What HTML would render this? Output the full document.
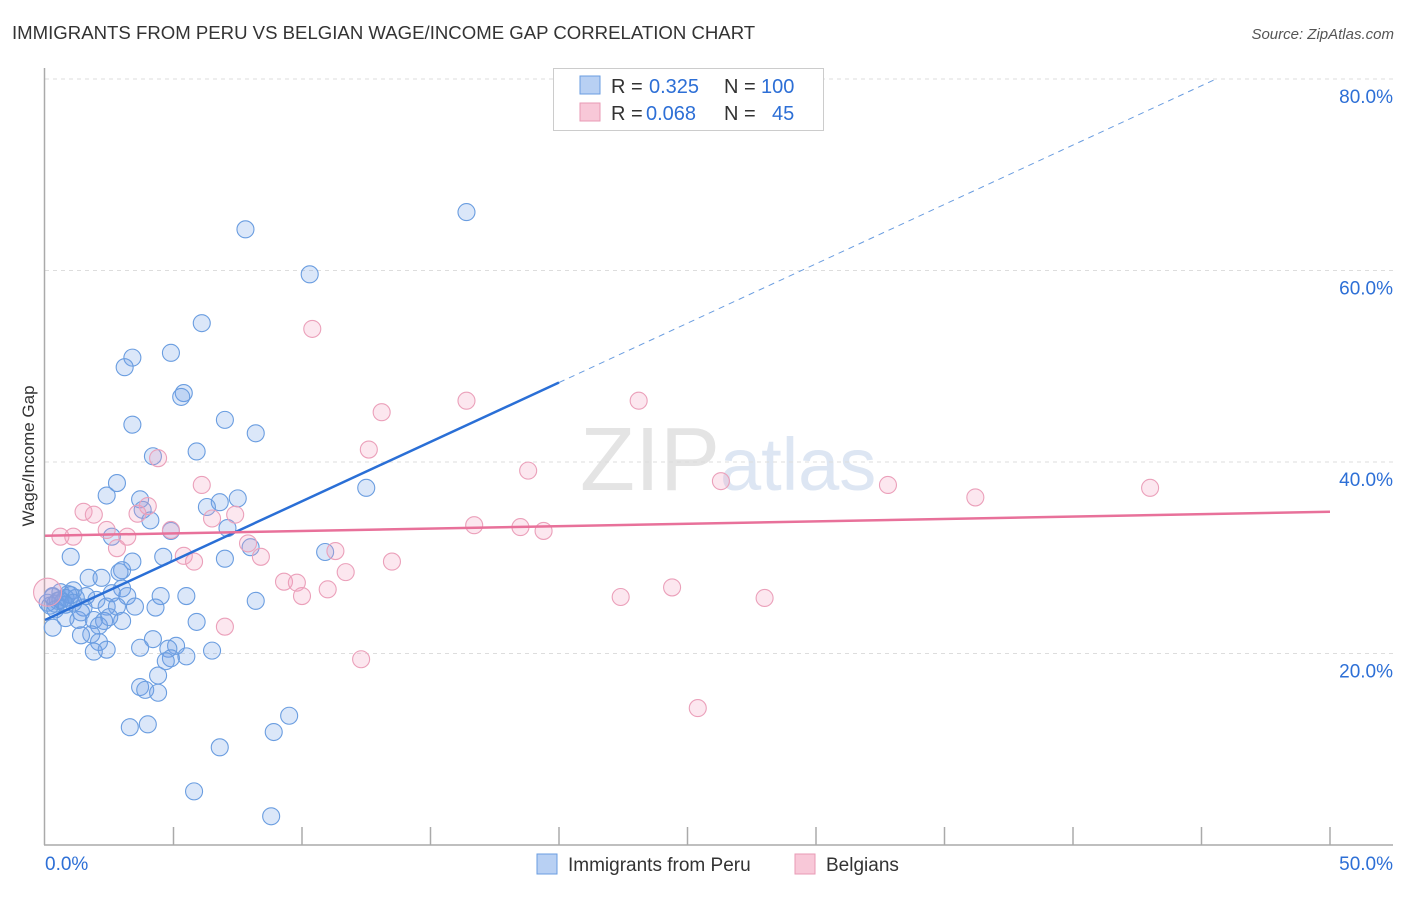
<!DOCTYPE html>
<html><head><meta charset="utf-8"><style>
body{margin:0;background:#fff;font-family:"Liberation Sans",sans-serif}
svg text{font-family:"Liberation Sans",sans-serif}
</style></head><body>
<svg id="c" width="1406" height="892" xmlns="http://www.w3.org/2000/svg">
<text x="12" y="39" font-size="18.6" fill="#333">IMMIGRANTS FROM PERU VS BELGIAN WAGE/INCOME GAP CORRELATION CHART</text>
<text x="1394" y="39" font-size="15" fill="#555" font-style="italic" text-anchor="end">Source: ZipAtlas.com</text>
<text x="720" y="490" font-size="90" fill="#e4e4e4" text-anchor="end" font-family="Liberation Serif">ZIP</text>
<text x="720" y="490" font-size="74" fill="#dde6f3">atlas</text>
<g id="grid"></g><g id="axes"></g><g id="pts"></g><g id="lines"></g>
<text transform="translate(34,456) rotate(-90)" font-size="17" fill="#333" text-anchor="middle">Wage/Income Gap</text>
<g>
<rect x="553.5" y="68.5" width="270" height="62" fill="#fff" stroke="#ccc"/>
<rect x="580" y="76" width="20" height="18" fill="#b8d0f3" stroke="#6a9de0"/>
<rect x="580" y="103" width="20" height="18" fill="#f8c8d8" stroke="#e89ab5"/>
<text x="611" y="93" font-size="20" fill="#333">R = <tspan fill="#2d6fd6" x="649">0.325</tspan><tspan x="724">N = </tspan><tspan fill="#2d6fd6" x="761">100</tspan></text>
<text x="611" y="120" font-size="20" fill="#333">R = <tspan fill="#2d6fd6" x="646">0.068</tspan><tspan x="724">N = </tspan><tspan fill="#2d6fd6" x="772">45</tspan></text>
</g>
<g>
<rect x="537" y="854" width="20" height="20" fill="#b8d0f3" stroke="#6a9de0"/>
<text x="568" y="871" font-size="19" fill="#333">Immigrants from Peru</text>
<rect x="795" y="854" width="20" height="20" fill="#f8c8d8" stroke="#e89ab5"/>
<text x="826" y="871" font-size="19" fill="#333">Belgians</text>
</g>
</svg>
<script>
const blueX=[16.4,7.8,10.3,6.1,3.4,4.9,3.1,5.4,5.3,7.0,3.4,8.2,5.9,4.2,12.5,2.8,2.4,3.7,7.5,6.8,6.3,3.8,4.1,7.1,4.9,2.6,8.0,10.9,1.0,4.6,7.0,3.4,3.0,2.9,1.7,2.2,3.0,1.1,0.6,2.6,3.2,5.5,4.5,0.3,0.8,1.6,2.0,8.2,0.1,0.4,1.5,2.4,3.5,4.3,2.8,0.8,1.3,1.9,2.3,3.0,5.9,0.3,2.1,1.8,1.4,4.2,2.1,3.7,5.1,4.8,1.9,2.4,6.5,5.5,4.9,4.7,4.4,3.7,3.9,4.4,9.5,4.0,3.3,8.9,6.8,5.8,8.8,0.5,0.9,1.2,0.2,0.7,1.0,2.5,1.4,0.6,0.3,1.1,0.4,0.8];
const blueY=[66.1,64.3,59.6,54.5,50.9,51.4,49.9,47.2,46.8,44.4,43.9,43.0,41.1,40.6,37.3,37.8,36.5,36.1,36.2,35.8,35.3,35.0,33.9,33.1,32.8,32.2,31.1,30.6,30.1,30.1,29.9,29.6,28.7,28.5,27.9,27.9,26.8,26.6,26.4,26.3,26.0,26.0,26.0,25.9,25.8,26.0,25.6,25.5,25.3,25.2,24.8,24.9,24.9,24.8,24.9,23.7,23.5,23.5,23.4,23.4,23.3,22.7,22.9,22.0,21.9,21.5,21.2,20.6,20.8,20.5,20.2,20.4,20.3,19.7,19.5,19.2,17.7,16.5,16.2,15.9,13.5,12.6,12.3,11.8,10.2,5.6,3.0,25.5,26.2,25.8,25.0,25.4,26.1,23.8,24.3,25.6,26.0,25.3,24.6,25.1];
const pinkX=[10.4,13.1,16.4,23.1,12.6,4.4,18.8,26.3,32.8,36.2,43.0,6.1,4.0,3.6,1.5,1.9,7.4,6.5,4.9,2.4,16.7,18.5,19.4,0.6,1.1,3.2,7.9,2.8,11.3,5.4,8.4,5.8,13.5,11.7,9.3,9.8,11.0,24.4,10.0,22.4,28.0,0.1,7.0,12.3,25.4];
const pinkY=[53.9,45.2,46.4,46.4,41.3,40.4,39.1,38.0,37.6,36.3,37.3,37.6,35.4,34.6,34.8,34.5,34.5,34.1,32.9,32.9,33.4,33.2,32.8,32.2,32.2,32.2,31.5,31.0,30.7,30.2,30.1,29.6,29.6,28.5,27.5,27.4,26.7,26.9,26.0,25.9,25.8,26.4,22.8,19.4,14.3];
const blueTrend=[23.5,1.24];const blueSolidEnd=20;
const pinkTrend=[32.3,0.05];
const yTicks=[20,40,60,80];const yTickLabels=["20.0%","40.0%","60.0%","80.0%"];
const xTicks=[0,5,10,15,20,25,30,35,40,45,50];
const X=v=>45+v*25.7, Y=v=>845-v*9.575;
const NS="http://www.w3.org/2000/svg";
function mk(p,t,a){const e=document.createElementNS(NS,t);for(const k in a)e.setAttribute(k,a[k]);p.appendChild(e);return e;}
const g=document.getElementById('grid'),ax=document.getElementById('axes'),pts=document.getElementById('pts'),ln=document.getElementById('lines');
yTicks.forEach((v,i)=>{const l=mk(g,'line',{x1:45,x2:1393,y1:Y(v),y2:Y(v),stroke:'#ddd','stroke-dasharray':'4,4'});


const t=mk(g,'text',{x:1393,y:Y(v)+24,'font-size':19,fill:'#2d6fd6','text-anchor':'end'});t.textContent=yTickLabels[i];

});
const a1=mk(ax,'line',{x1:44.5,x2:44.5,y1:68,y2:845,stroke:'#aaa','stroke-width':1.5});


const a2=mk(ax,'line',{x1:44,x2:1393,y1:845,y2:845,stroke:'#aaa','stroke-width':1.5});


xTicks.forEach(v=>{if(v===0)return;const l=mk(ax,'line',{x1:X(v),x2:X(v),y1:827,y2:845,stroke:'#aaa','stroke-width':1.5});

});
const xl=mk(ax,'text',{x:45,y:870,'font-size':19,fill:'#2d6fd6'});xl.textContent='0.0%';


const xr=mk(ax,'text',{x:1393,y:870,'font-size':19,fill:'#2d6fd6','text-anchor':'end'});xr.textContent='50.0%';


blueX.forEach((x,i)=>{const c=mk(pts,'circle',{cx:X(x),cy:Y(blueY[i]),r:8.5,fill:'rgba(110,160,230,0.25)',stroke:'#6a9de0','stroke-width':1.1});

});
pinkX.forEach((x,i)=>{const c=mk(pts,'circle',{cx:X(x),cy:Y(pinkY[i]),r:i===41?14:8.5,fill:'rgba(245,160,190,0.25)',stroke:'#eba0ba','stroke-width':1.1});

});
const bf=v=>blueTrend[0]+blueTrend[1]*v;
const l1=mk(ln,'line',{x1:X(0),y1:Y(bf(0)),x2:X(blueSolidEnd),y2:Y(bf(blueSolidEnd)),stroke:'#2a6fd6','stroke-width':2.5});


const xe=(80-blueTrend[0])/blueTrend[1];
const l2=mk(ln,'line',{x1:X(blueSolidEnd),y1:Y(bf(blueSolidEnd)),x2:X(xe),y2:Y(bf(xe)),stroke:'#6a9de0','stroke-width':1,'stroke-dasharray':'6,5'});


const pf=v=>pinkTrend[0]+pinkTrend[1]*v;
const l3=mk(ln,'line',{x1:X(0),y1:Y(pf(0)),x2:X(50),y2:Y(pf(50)),stroke:'#e8719a','stroke-width':2.5});


</script>
</body></html>
